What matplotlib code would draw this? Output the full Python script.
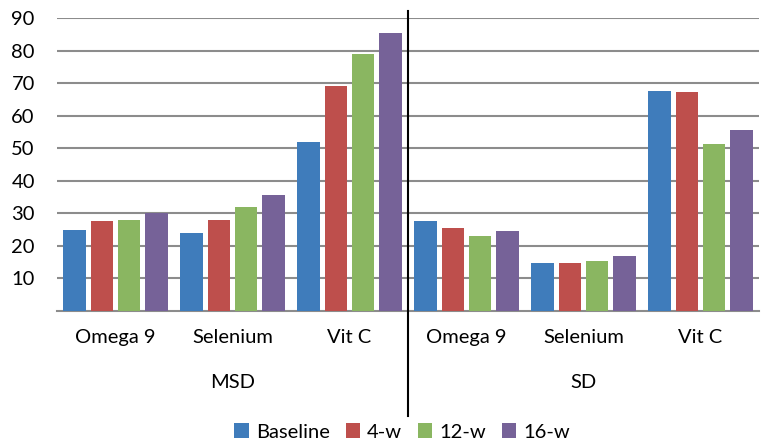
import matplotlib
matplotlib.use("Agg")
import matplotlib.pyplot as plt
import numpy as np
from matplotlib.lines import Line2D
from matplotlib.patches import Patch

plt.rcParams['font.family'] = ['Lato', 'DejaVu Sans']

groups = ["MSD", "SD"]
categories = ["Omega 9", "Selenium", "Vit C"]
series = ["Baseline", "4-w", "12-w", "16-w"]
colors = ["#3f7cbb", "#be4f4c", "#8ab661", "#766298"]

baseline = [25, 24, 52, 27.5, 14.8, 67.6]
w4 = [27.6, 27.8, 69.1, 25.5, 14.8, 67.4]
w12 = [28, 32, 79, 23, 15.5, 51.2]
w16 = [30.2, 35.5, 85.4, 24.5, 16.8, 55.6]
values = [baseline, w4, w12, w16]
yticks = [10, 20, 30, 40, 50, 60, 70, 80, 90]

W, H = 761, 441
FS = 14.5
fig = plt.figure(figsize=(W / 100, H / 100), dpi=100)
ax = fig.add_axes([57 / W, 1 - 311 / H, (759 - 57) / W, (311 - 18) / H])

n = len(baseline)
x = np.arange(n)
step = 0.233
bw = 0.19
for i, (vals, c) in enumerate(zip(values, colors)):
    ax.bar(x + (i - 1.5) * step, vals, width=bw, color=c, zorder=3)

ax.set_xlim(-0.5, n - 0.5)
ax.set_ylim(0, 90)
ax.set_yticks(yticks)
ax.set_yticklabels([str(t) for t in yticks], fontsize=FS)
ax.tick_params(axis='y', length=0, pad=16)
ax.yaxis.grid(True, color="#8c8c8c", linewidth=1.5, zorder=0)
ax.set_axisbelow(True)
for s in ["top", "right", "left"]:
    ax.spines[s].set_visible(False)
ax.spines["bottom"].set_color("#8c8c8c")
ax.spines["bottom"].set_linewidth(1.5)

ax.set_xticks(x)
ax.set_xticklabels(categories * len(groups), fontsize=FS)
ax.tick_params(axis='x', length=0, pad=13)

for gi, g in enumerate(groups):
    cx = gi * 3 + 1
    ax.text(cx, -0.245, g, transform=ax.get_xaxis_transform(), ha='center', va='center', fontsize=FS)

# divider between groups
xd = ax.transData.transform((2.5, 0))[0] / W
fig.add_artist(Line2D([xd, xd], [1 - 11 / H, 1 - 416 / H], transform=fig.transFigure,
                      color="black", linewidth=1.5))

handles = [Patch(facecolor=c, edgecolor='none') for c in colors]
fig.legend(handles, series, loc='center', bbox_to_anchor=(402 / W, 1 - 432 / H), ncol=4,
           frameon=False, fontsize=FS, handlelength=0.7, handleheight=0.7,
           handletextpad=0.35, columnspacing=0.8)

fig.savefig("out.png", dpi=100)
